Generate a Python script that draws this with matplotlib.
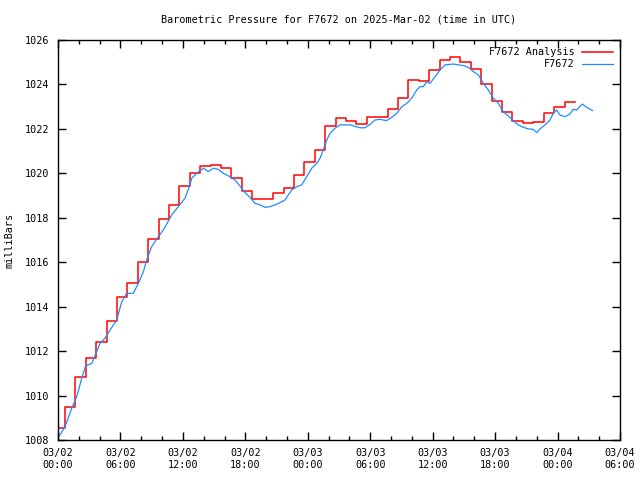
import matplotlib
matplotlib.use('Agg')
import matplotlib.pyplot as plt
from matplotlib.ticker import MultipleLocator

# hourly analysis values (mb), steps start at hour 0 and then every hour from 0.67
analysis_p = [1008.55, 1009.5, 1010.82, 1011.68, 1012.4, 1013.34, 1014.42, 1015.05,
              1016.0, 1017.03, 1017.93, 1018.58, 1019.43, 1020.0, 1020.33, 1020.36,
              1020.26, 1019.78, 1019.2, 1018.83, 1018.83, 1019.1, 1019.34, 1019.91,
              1020.53, 1021.05, 1022.13, 1022.48, 1022.37, 1022.2, 1022.52, 1022.55,
              1022.88, 1023.39, 1024.2, 1024.14, 1024.65, 1025.1, 1025.22, 1025.03,
              1024.68, 1024.02, 1023.26, 1022.75, 1022.36, 1022.25, 1022.31, 1022.72,
              1022.97, 1023.21]
analysis_h = [0.0] + [0.67 + i for i in range(len(analysis_p) - 1)]

# station observations: hours since 03/02 00:00 UTC and pressure
obs_h = [0.0, 0.67, 1.32, 1.80, 2.28, 2.66, 3.24, 3.72, 4.04, 4.52, 5.00, 5.64,
         6.12, 6.60, 7.24, 7.72, 8.20, 8.52, 9.00, 9.64, 10.12, 10.93, 11.56,
         12.20, 12.68, 12.85, 13.33, 13.96, 14.44, 14.92, 15.40, 15.88, 16.53,
         17.01, 17.49, 17.97, 18.45, 18.93, 19.41, 19.89, 20.37, 20.85, 21.33,
         21.81, 22.13, 22.46, 22.94, 23.42, 23.90, 24.38, 24.86, 25.18, 25.49,
         25.82, 26.14, 26.62, 27.10, 28.06, 29.02, 29.50, 29.98, 30.46, 30.94,
         31.58, 32.06, 32.55, 33.03, 33.51, 33.99, 34.47, 34.78, 35.10, 35.43,
         35.75, 36.23, 36.71, 37.19, 37.98, 38.46, 38.94, 39.43, 39.91, 40.39,
         40.87, 41.35, 41.83, 42.31, 42.79, 43.27, 43.75, 44.23, 44.71, 45.19,
         45.67, 46.0, 46.32, 46.80, 47.28, 47.59, 47.92, 48.24, 48.72, 49.20,
         49.51, 49.84, 50.38, 50.80, 51.35]
obs_p = [1008.09, 1008.6, 1009.43, 1009.95, 1010.78, 1011.33, 1011.45, 1011.97,
         1012.35, 1012.58, 1012.95, 1013.4, 1014.22, 1014.6, 1014.6, 1015.05,
         1015.57, 1016.1, 1016.7, 1017.15, 1017.45, 1018.13, 1018.5, 1018.88,
         1019.48, 1019.78, 1020.0, 1020.23, 1020.08, 1020.23, 1020.18, 1020.0,
         1019.85, 1019.7, 1019.43, 1019.13, 1018.92, 1018.65, 1018.58, 1018.47,
         1018.5, 1018.58, 1018.68, 1018.8, 1019.03, 1019.25, 1019.4, 1019.48,
         1019.85, 1020.23, 1020.45, 1020.68, 1021.05, 1021.5, 1021.8, 1022.03,
         1022.18, 1022.18, 1022.05, 1022.05, 1022.2, 1022.4, 1022.43, 1022.37,
         1022.52, 1022.7, 1023.0, 1023.15, 1023.38, 1023.75, 1023.9, 1023.9,
         1024.13, 1024.05, 1024.35, 1024.65, 1024.88, 1024.92, 1024.88, 1024.85,
         1024.77, 1024.58, 1024.43, 1024.05, 1023.75, 1023.38, 1023.15, 1022.77,
         1022.58, 1022.37, 1022.18, 1022.07, 1022.0, 1021.98, 1021.83, 1022.0,
         1022.18, 1022.4, 1022.7, 1022.85, 1022.62, 1022.55, 1022.67, 1022.88,
         1022.85, 1023.12, 1022.97, 1022.83]

tick_h = [0, 6, 12, 18, 24, 30, 36, 42, 48, 54]
tick_labels = ['03/02\n00:00', '03/02\n06:00', '03/02\n12:00', '03/02\n18:00',
               '03/03\n00:00', '03/03\n06:00', '03/03\n12:00', '03/03\n18:00',
               '03/04\n00:00', '03/04\n06:00']

plt.rcParams['font.family'] = 'DejaVu Sans Mono'
plt.rcParams['font.size'] = 7.3

fig = plt.figure(figsize=(6.4, 4.8), dpi=100)
ax = fig.add_axes([58/640, 40/480, 562/640, 400/480])

# analysis as hourly steps, held until the end of the last hour
ax.step(analysis_h + [analysis_h[-1] + 1], analysis_p + [analysis_p[-1]],
        where='post', color='#ff0000', lw=1.1, label='F7672 Analysis')
ax.plot(obs_h, obs_p, color='#1e8cff', lw=0.9, label='F7672')

ax.set_xlim(0, 54)
ax.set_ylim(1008, 1026)
ax.set_xticks(tick_h)
ax.set_xticklabels(tick_labels)
ax.xaxis.set_minor_locator(MultipleLocator(2))
ax.set_yticks(range(1008, 1027, 2))

ax.tick_params(which='both', direction='in', top=True, right=True, width=1,
               colors='black', pad=6)
ax.tick_params(which='major', length=6)
ax.tick_params(which='minor', length=3)
for s in ax.spines.values():
    s.set_linewidth(1)

fig.text(10/640, 0.5, 'milliBars', rotation=90, ha='center', va='center')
# title is centred over the plot area, not the whole figure
fig.text(339/640, 1 - 19/480, 'Barometric Pressure for F7672 on 2025-Mar-02 (time in UTC)',
         ha='center', va='center')

ax.legend(loc='upper right', frameon=False, markerfirst=False, handlelength=3.0,
          handletextpad=0.8, labelspacing=0.2, borderaxespad=0.3, fontsize=7.3)

fig.savefig('out.png', dpi=100)
